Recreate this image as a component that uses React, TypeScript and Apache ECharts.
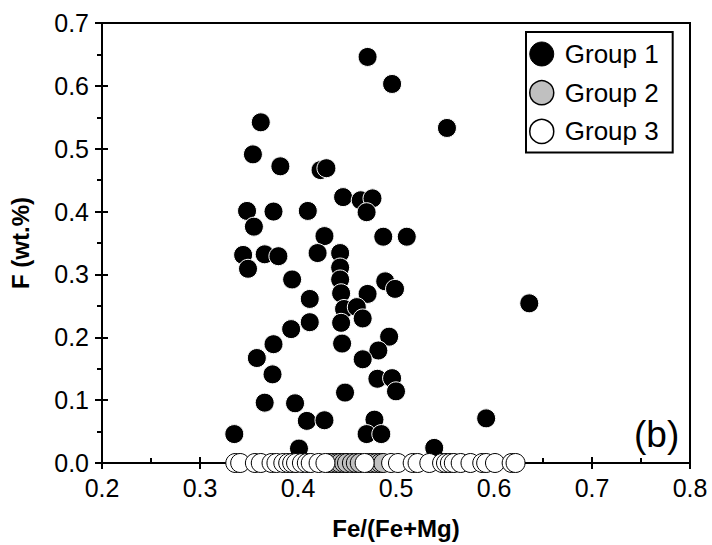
import React, { useEffect, useRef } from "react";
import * as echarts from "echarts";

const FONT = "'Liberation Sans', Arial, sans-serif";

const seriesNames = ["Group 1", "Group 2", "Group 3"];

const group1X = [
  0.362, 0.354, 0.382, 0.423, 0.429, 0.348, 0.375, 0.41, 0.355, 0.471,
  0.496, 0.552, 0.446, 0.464, 0.476, 0.47, 0.427, 0.487, 0.511, 0.344,
  0.349, 0.366, 0.38, 0.394, 0.412, 0.412, 0.393, 0.375, 0.358, 0.374,
  0.366, 0.397, 0.409, 0.335, 0.401, 0.42, 0.443, 0.443, 0.443, 0.444,
  0.471, 0.489, 0.499, 0.447, 0.46, 0.466, 0.444, 0.493, 0.445, 0.482,
  0.466, 0.481, 0.496, 0.5, 0.448, 0.636, 0.592, 0.427, 0.478, 0.47,
  0.485, 0.539,
];
const group1Y = [
  0.542, 0.491, 0.472, 0.466, 0.469, 0.401, 0.4, 0.401, 0.376, 0.646,
  0.603, 0.533, 0.423, 0.418, 0.421, 0.399, 0.361, 0.36, 0.36, 0.331,
  0.309, 0.332, 0.329, 0.292, 0.261, 0.224, 0.213, 0.189, 0.167, 0.141,
  0.096, 0.095, 0.067, 0.046, 0.023, 0.334, 0.334, 0.311, 0.292, 0.27,
  0.269, 0.289, 0.277, 0.245, 0.248, 0.23, 0.223, 0.201, 0.19, 0.179,
  0.165, 0.134, 0.135, 0.114, 0.112, 0.254, 0.071, 0.068, 0.069, 0.046,
  0.046, 0.024,
];

const group2X = [
  0.432, 0.436, 0.44, 0.443, 0.447, 0.45, 0.455, 0.459, 0.463, 0.472,
  0.476, 0.48, 0.484, 0.487,
];
const group2Y = [0, 0, 0, 0, 0, 0, 0, 0, 0, 0, 0, 0, 0, 0];

const group3X = [
  0.336, 0.341, 0.356, 0.362, 0.373, 0.378, 0.385, 0.39, 0.394, 0.398,
  0.404, 0.409, 0.413, 0.421, 0.428, 0.468, 0.495, 0.502, 0.517, 0.522,
  0.534, 0.547, 0.551, 0.555, 0.559, 0.566, 0.576, 0.588, 0.592, 0.601,
  0.618, 0.622,
];
const group3Y = [
  0, 0, 0, 0, 0, 0, 0, 0, 0, 0, 0, 0, 0, 0, 0, 0, 0, 0, 0, 0, 0, 0, 0, 0,
  0, 0, 0, 0, 0, 0, 0, 0,
];

const xTicks = [0.2, 0.3, 0.4, 0.5, 0.6, 0.7, 0.8];
const yTicks = [0, 0.1, 0.2, 0.3, 0.4, 0.5, 0.6, 0.7];

const zip = (xs: number[], ys: number[]) => xs.map((x, i) => [x, ys[i]]);

export default function App() {
  const ref = useRef<HTMLDivElement>(null);
  useEffect(() => {
    if (!ref.current) return;
    const chart = echarts.init(ref.current, null, { renderer: "svg" });
    const axisLine = { show: true, onZero: false, lineStyle: { color: "#000", width: 2 } };
    const xMin = xTicks[0];
    const xMax = xTicks[xTicks.length - 1];
    const yMin = yTicks[0];
    const yMax = yTicks[yTicks.length - 1];
    const tickLabel = {
      color: "#000",
      fontSize: 25,
      fontFamily: FONT,
      margin: 12,
      formatter: (v: number) => v.toFixed(1),
    };
    const nameStyle = { color: "#000", fontSize: 24, fontWeight: "bold", fontFamily: FONT };
    chart.setOption({
      animation: false,
      backgroundColor: "#fff",
      textStyle: { fontFamily: FONT },
      grid: {
        left: 93,
        right: 22,
        top: 23,
        bottom: 73,
        show: true,
        borderColor: "#000",
        borderWidth: 2,
        backgroundColor: "transparent",
      },
      xAxis: [
        {
          type: "value",
          min: xMin,
          max: xMax,
          interval: 0.1,
          position: "bottom",
          axisLine,
          axisTick: { show: true, inside: false, length: 6, lineStyle: { width: 2, color: "#000" } },
          minorTick: { show: false },
          splitLine: { show: false },
          axisLabel: tickLabel,
          name: "Fe/(Fe+Mg)",
          nameLocation: "middle",
          nameGap: 53,
          nameTextStyle: nameStyle,
        },
        {
          type: "value",
          min: xMin,
          max: xMax,
          interval: 0.1,
          position: "bottom",
          axisLine,
          axisTick: { show: true, inside: true, length: 6, lineStyle: { width: 2, color: "#000" } },
          minorTick: { show: true, splitNumber: 2, length: 5, lineStyle: { width: 2, color: "#000" } },
          splitLine: { show: false },
          axisLabel: { show: false },
        },
      ],
      yAxis: [
        {
          type: "value",
          min: yMin,
          max: yMax,
          interval: 0.1,
          position: "left",
          axisLine,
          axisTick: { show: true, inside: false, length: 7, lineStyle: { width: 2, color: "#000" } },
          minorTick: { show: true, splitNumber: 2, length: 5, lineStyle: { width: 2, color: "#000" } },
          splitLine: { show: false },
          axisLabel: { ...tickLabel, margin: 13 },
          name: "F (wt.%)",
          nameLocation: "middle",
          nameGap: 70,
          nameTextStyle: nameStyle,
        },
        {
          type: "value",
          min: yMin,
          max: yMax,
          interval: 0.1,
          position: "left",
          axisLine,
          axisTick: { show: true, inside: true, length: 6, lineStyle: { width: 2, color: "#000" } },
          minorTick: { show: false },
          splitLine: { show: false },
          axisLabel: { show: false },
        },
      ],
      legend: {
        orient: "vertical",
        left: 526,
        top: 32,
        itemWidth: 36,
        itemHeight: 24,
        itemGap: 12.7,
        padding: [9, 14, 8, 3],
        borderColor: "#000",
        borderWidth: 2,
        backgroundColor: "#fff",
        textStyle: { color: "#000", fontSize: 26, fontFamily: FONT },
        data: [
          { name: seriesNames[0], icon: "circle", itemStyle: { color: "#000", borderColor: "#000", borderWidth: 1 } },
          { name: seriesNames[1], icon: "circle", itemStyle: { color: "#c0c0c0", borderColor: "#000", borderWidth: 1.5 } },
          { name: seriesNames[2], icon: "circle", itemStyle: { color: "#fff", borderColor: "#000", borderWidth: 1.5 } },
        ],
      },
      graphic: [
        {
          type: "text",
          left: 634,
          top: 416,
          style: { text: "(b)", fontSize: 37, fontFamily: FONT, fill: "#000" },
        },
      ],
      series: [
        {
          name: seriesNames[0],
          type: "scatter",
          xAxisIndex: 0,
          yAxisIndex: 0,
          symbol: "circle",
          symbolSize: 19,
          data: zip(group1X, group1Y),
          itemStyle: { color: "#000", borderColor: "#fff", borderWidth: 1, opacity: 1 },
          emphasis: { disabled: true },
        },
        {
          name: seriesNames[1],
          type: "scatter",
          xAxisIndex: 0,
          yAxisIndex: 0,
          symbol: "circle",
          symbolSize: 19,
          data: zip(group2X, group2Y),
          itemStyle: { color: "#c0c0c0", borderColor: "#000", borderWidth: 1, opacity: 1 },
          emphasis: { disabled: true },
        },
        {
          name: seriesNames[2],
          type: "scatter",
          xAxisIndex: 0,
          yAxisIndex: 0,
          symbol: "circle",
          symbolSize: 19,
          data: zip(group3X, group3Y),
          itemStyle: { color: "#fff", borderColor: "#000", borderWidth: 1, opacity: 1 },
          emphasis: { disabled: true },
        },
      ],
    });
    return () => chart.dispose();
  }, []);
  return (
    <div
      ref={ref}
      style={{ position: "fixed", left: 0, top: 0, width: 712, height: 545, background: "#fff" }}
    />
  );
}
